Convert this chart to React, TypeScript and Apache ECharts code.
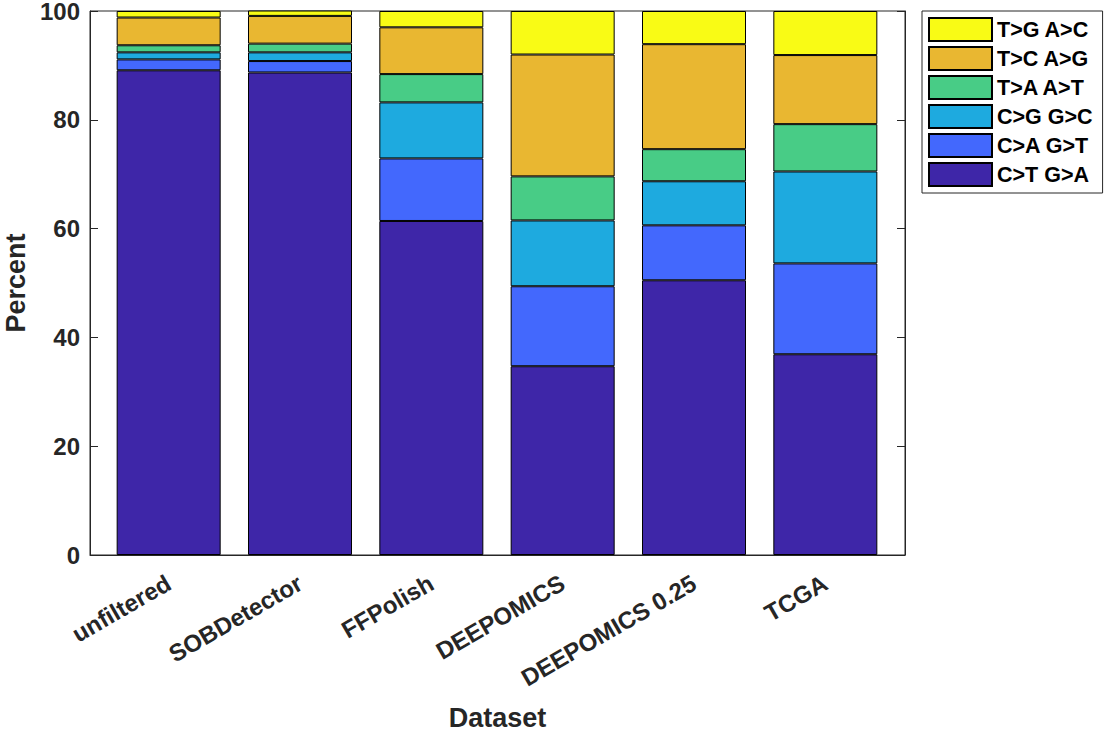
import React, { useEffect, useRef } from "react";
import * as echarts from "echarts";

const categories = ["unfiltered", "SOBDetector", "FFPolish", "DEEPOMICS", "DEEPOMICS 0.25", "TCGA"];
const seriesNames = ["C>T G>A", "C>A G>T", "C>G G>C", "T>A A>T", "T>C A>G", "T>G A>C"];
const ctGA = [89.1, 88.7, 61.4, 34.7, 50.5, 36.9];
const caGT = [2.0, 2.1, 11.5, 14.7, 10.1, 16.7];
const cgGC = [1.3, 1.6, 10.3, 12.1, 8.1, 16.9];
const taAT = [1.3, 1.6, 5.2, 8.1, 5.9, 8.7];
const tcAG = [5.1, 5.1, 8.6, 22.4, 19.3, 12.7];
const tgAC = [1.2, 1.2, 3.0, 8.0, 6.1, 8.1];
const colors = ["#3e26a8", "#4368fd", "#1eaadf", "#48cc86", "#e9b731", "#f9fb15"];
const yTicks = [0, 20, 40, 60, 80, 100];

const FONT = "'Liberation Sans', Arial, sans-serif";
const AXIS_COLOR = "#262626";

export default function App() {
  const ref = useRef<HTMLDivElement>(null);
  useEffect(() => {
    if (!ref.current) return;
    const chart = echarts.init(ref.current, undefined, { renderer: "svg" });
    const values = [ctGA, caGT, cgGC, taAT, tcAG, tgAC];
    const yMin = yTicks[0];
    const yMax = yTicks[yTicks.length - 1];
    chart.setOption({
      animation: false,
      textStyle: { fontFamily: FONT },
      grid: [
        {
          left: 90,
          top: 11,
          right: 204,
          bottom: 177,
          outerBoundsMode: "none",
          containLabel: false,
          show: true,
          borderColor: AXIS_COLOR,
          borderWidth: 1,
          backgroundColor: "transparent",
        },
        {
          left: 103,
          top: 11,
          right: 218,
          bottom: 177,
          outerBoundsMode: "none",
          containLabel: false,
        },
      ],
      legend: {
        orient: "vertical",
        left: 922,
        top: 11,
        data: [...seriesNames].reverse(),
        itemWidth: 63,
        itemHeight: 23,
        itemGap: 4,
        padding: [6, 10, 6, 6],
        borderColor: AXIS_COLOR,
        borderWidth: 1,
        backgroundColor: "#fff",
        icon: "rect",
        textStyle: { fontFamily: FONT, fontWeight: "bold", fontSize: 21.5, lineHeight: 23, color: "#000" },
      },
      xAxis: [
        {
          gridIndex: 0,
          type: "value",
          min: 0,
          max: 1,
          name: "Dataset",
          nameLocation: "middle",
          nameGap: 149,
          nameTextStyle: { fontFamily: FONT, fontWeight: "bold", fontSize: 27, lineHeight: 27, color: AXIS_COLOR },
          axisLine: { show: true, lineStyle: { color: AXIS_COLOR, width: 1 } },
          axisTick: { show: false },
          splitLine: { show: false },
          axisLabel: { show: false },
        },
        {
          gridIndex: 1,
          type: "category",
          data: categories,
          axisLine: { show: false },
          axisTick: { show: false },
          axisLabel: {
            interval: 0,
            rotate: 30,
            margin: 26,
            fontFamily: FONT,
            fontWeight: "bold",
            fontSize: 24,
            color: AXIS_COLOR,
          },
        },
      ],
      yAxis: [
        {
          gridIndex: 0,
          type: "value",
          min: yMin,
          max: yMax,
          interval: 20,
          name: "Percent",
          nameLocation: "middle",
          nameGap: 61,
          nameTextStyle: { fontFamily: FONT, fontWeight: "bold", fontSize: 27, lineHeight: 27, color: AXIS_COLOR },
          axisLine: { show: true, lineStyle: { color: AXIS_COLOR, width: 1 } },
          axisTick: { show: true, inside: true, length: 8, lineStyle: { color: AXIS_COLOR } },
          splitLine: { show: false },
          axisLabel: {
            fontFamily: FONT,
            fontWeight: "bold",
            fontSize: 24,
            lineHeight: 20,
            padding: [5, 0, 0, 0],
            color: AXIS_COLOR,
            margin: 10,
          },
        },
        {
          gridIndex: 0,
          type: "value",
          position: "right",
          min: yMin,
          max: yMax,
          interval: 20,
          axisLine: { show: true, lineStyle: { color: AXIS_COLOR, width: 1 } },
          axisTick: { show: true, inside: true, length: 8, lineStyle: { color: AXIS_COLOR } },
          splitLine: { show: false },
          axisLabel: { show: false },
        },
        {
          gridIndex: 1,
          type: "value",
          min: yMin,
          max: yMax,
          interval: 20,
          show: false,
        },
      ],
      series: seriesNames.map((name, i) => ({
        name,
        type: "bar",
        xAxisIndex: 1,
        yAxisIndex: 2,
        stack: "total",
        barWidth: 104,
        data: values[i],
        itemStyle: { color: colors[i], borderColor: "#000", borderWidth: 1 },
        emphasis: { disabled: true },
      })),
    });
    return () => chart.dispose();
  }, []);
  return (
    <div
      ref={ref}
      style={{ position: "fixed", left: 0, top: 0, width: 1109, height: 732, background: "#fff" }}
    />
  );
}
